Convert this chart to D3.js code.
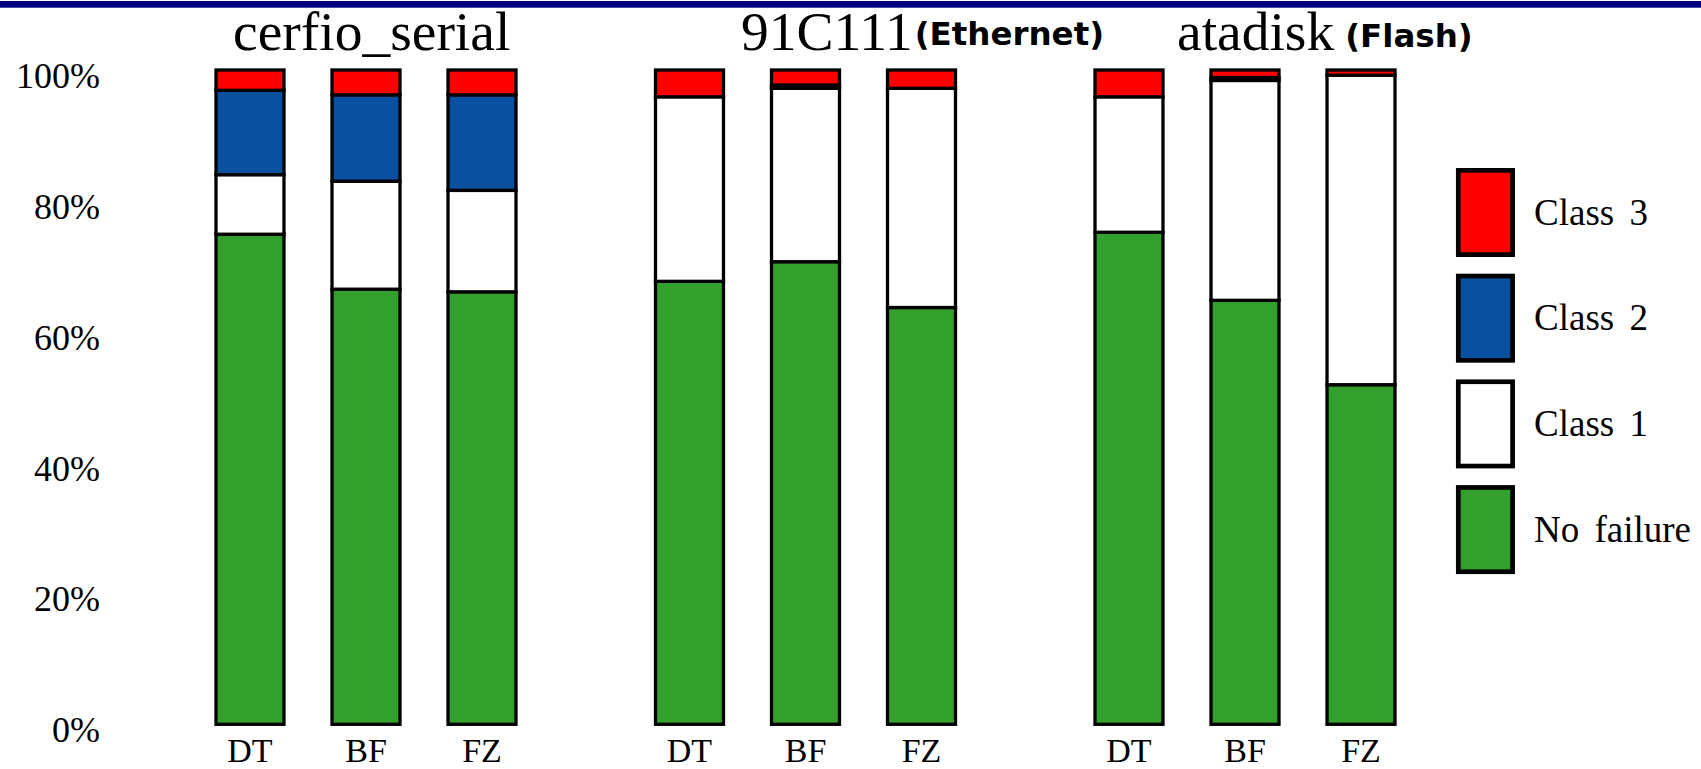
<!DOCTYPE html>
<html>
<head>
<meta charset="utf-8">
<script src="https://cdn.jsdelivr.net/npm/d3@7"></script>
<style>
  html, body { margin: 0; padding: 0; background: #ffffff; }
  svg { display: block; }
</style>
</head>
<body>
<div id="chart"></div>
<script>
// ---------- data ----------
const groups = ["cerfio_serial", "91C111", "atadisk"];
const groupSuffix = ["", "(Ethernet)", "(Flash)"];
const methods = ["DT", "BF", "FZ"];
const seriesNames = ["No failure", "Class 1", "Class 2", "Class 3"];
// values per bar, in order: cerfio DT,BF,FZ | 91C111 DT,BF,FZ | atadisk DT,BF,FZ  (percent)
const noFailure = [74.9, 66.5, 66.1, 67.7, 70.7, 63.7, 75.2, 64.8, 51.9];
const class1    = [9.1, 16.5, 15.5, 28.2, 26.5, 33.5, 20.7, 33.6, 47.3];
const class2    = [12.9, 13.2, 14.6, 0, 0.5, 0, 0, 0.45, 0];
const class3    = [3.1, 3.8, 3.8, 4.1, 2.3, 2.8, 4.1, 1.15, 0.8];
const yTicks = [0, 20, 40, 60, 80, 100];
const yTickLabels = ["0%", "20%", "40%", "60%", "80%", "100%"];

// ---------- layout ----------
const W = 1701, H = 769;
const colors = { "No failure": "#339f2c", "Class 1": "#ffffff", "Class 2": "#0a50a0", "Class 3": "#ff0000" };
const serif = "'Liberation Serif', 'Times New Roman', Times, serif";
const comic = "'Comic Sans MS', 'DejaVu Sans', sans-serif";

const svg = d3.select("#chart").append("svg").attr("width", W).attr("height", H);

// top navy band
svg.append("rect").attr("x", 0).attr("y", 1).attr("width", W).attr("height", 6.7).attr("fill", "#000080");

const y = d3.scaleLinear().domain([0, 100]).range([724.3, 70]);
const gx = d3.scalePoint().domain(groups).range([366, 1245]);
const bx = d3.scaleBand().domain(methods).range([-150, 150]).paddingInner(0.414).paddingOuter(0);

const rows = [];
groups.forEach((g, gi) => methods.forEach((m, mi) => {
  const i = gi * 3 + mi;
  rows.push({ group: g, method: m,
    "No failure": noFailure[i], "Class 1": class1[i], "Class 2": class2[i], "Class 3": class3[i] });
}));
const stacked = d3.stack().keys(seriesNames)(rows);

// bars
const barX = d => gx(d.data.group) + bx(d.data.method);
svg.append("g").selectAll("g.series").data(stacked).join("g")
  .attr("fill", s => colors[s.key])
  .selectAll("rect").data(s => s.filter(d => d[1] - d[0] > 0)).join("rect")
  .attr("x", barX)
  .attr("width", bx.bandwidth())
  .attr("y", d => y(d[1]))
  .attr("height", d => y(d[0]) - y(d[1]))
  .attr("stroke", "#000").attr("stroke-width", 3.3);

// y axis labels (no axis line)
const yAxis = d3.axisLeft(y).tickValues(yTicks).tickFormat((d, i) => yTickLabels[i]).tickSize(0).tickPadding(0);
const yg = svg.append("g").attr("transform", "translate(100,0)").call(yAxis);
yg.select(".domain").remove();
yg.selectAll("text").attr("font-family", serif).attr("font-size", 36).attr("fill", "#000")
  .attr("dy", 17.5).attr("text-anchor", "end");

// x labels
rows.forEach(r => {
  svg.append("text")
    .attr("x", gx(r.group) + bx(r.method) + bx.bandwidth() / 2)
    .attr("y", 762)
    .attr("text-anchor", "middle")
    .attr("font-family", serif).attr("font-size", 34).attr("fill", "#000")
    .text(r.method);
});

// group titles
const titleStart = [233, 741, 1177];
const suffixGap = [0, 2, 11];
groups.forEach((g, gi) => {
  const t = svg.append("text").attr("x", titleStart[gi]).attr("y", 50)
    .attr("font-family", serif).attr("font-size", 55.5).attr("fill", "#000");
  t.append("tspan").text(g);
  if (groupSuffix[gi]) {
    t.append("tspan").attr("dx", suffixGap[gi]).attr("dy", gi === 1 ? -5 : -3)
      .attr("font-family", comic).attr("font-weight", "bold").attr("font-size", 32.5)
      .text(groupSuffix[gi]);
  }
});

// legend (top to bottom: Class 3, Class 2, Class 1, No failure)
const legendOrder = seriesNames.slice().reverse();
const ly = d3.scaleBand().domain(legendOrder).range([168, 168 + 4 * 105.7]);
const lg = svg.append("g");
legendOrder.forEach(k => {
  lg.append("rect").attr("x", 1458.3).attr("y", ly(k) + 2.35).attr("width", 54.3).attr("height", 84.3)
    .attr("fill", colors[k]).attr("stroke", "#000").attr("stroke-width", 4.7);
  lg.append("text").attr("x", 1534).attr("y", ly(k) + 44.5 + 12)
    .attr("font-family", serif).attr("font-size", 37).attr("fill", "#000")
    .attr("word-spacing", 6)
    .text(k);
});
</script>
</body>
</html>
